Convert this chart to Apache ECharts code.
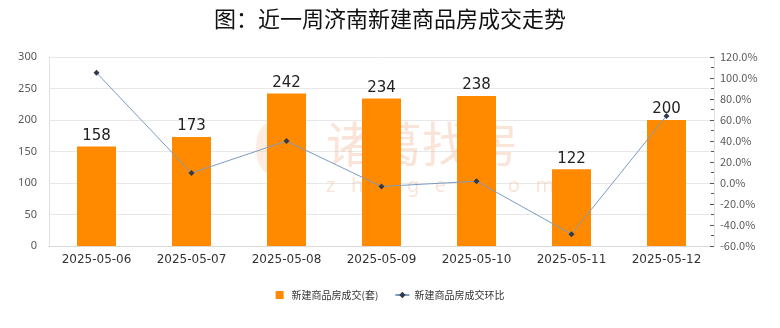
<!DOCTYPE html>
<html><head><meta charset="utf-8">
<script src="https://cdn.jsdelivr.net/npm/echarts@6/dist/echarts.min.js"></script>
<style>html,body{margin:0;padding:0;background:#fff}#c{width:780px;height:328px}</style>
</head><body><div id="c"></div>
<script>
const categories = ['2025-05-06','2025-05-07','2025-05-08','2025-05-09','2025-05-10','2025-05-11','2025-05-12'];
const deals = [158, 173, 242, 234, 238, 122, 200];
const ratio = [105.0, 9.5, 39.9, -3.3, 1.7, -48.7, 63.9];
const leftTicks = {min: 0, max: 300, interval: 50};
const rightTicks = {min: -60, max: 120, interval: 20};
const seriesNames = ['新建商品房成交(套)', '新建商品房成交环比'];
const titleText = '图：近一周济南新建商品房成交走势';

const chart = echarts.init(document.getElementById('c'));
chart.setOption({
  backgroundColor: '#fff',
  animation: false,
  title: {text: titleText, left: 'center', top: 3,
    textStyle: {fontFamily: 'Noto Sans CJK SC', fontSize: 22, fontWeight: 'normal', color: '#111'}},
  graphic: [
    {type: 'ellipse', left: 256, top: 122, z: 1, silent: true,
      shape: {cx: 0, cy: 0, rx: 15, ry: 26},
      style: {fill: 'rgba(245,200,170,0.35)'}},
    {type: 'text', left: 326, top: 120, z: 1, silent: true,
      style: {text: '诸葛找房', fontSize: 48, fontFamily: 'Noto Sans CJK SC', fill: 'rgba(240,190,160,0.42)', letterSpacing: 4}},
    {type: 'text', left: 326, top: 176, z: 1, silent: true,
      style: {text: 'z   h   u   g   e   .   c   o   m', fontSize: 20, fontFamily: 'Noto Sans', fill: 'rgba(240,190,160,0.42)'}}
  ],
  legend: {bottom: 23, left: 'center', itemGap: 16, itemWidth: 14, itemHeight: 8,
    textStyle: {fontFamily: 'Noto Sans CJK SC', fontSize: 10, color: '#333'},
    data: [{name: seriesNames[0], icon: 'path://M0,0h8v8h-8z'}, {name: seriesNames[1]}]},
  grid: {left: 49, right: 66, top: 57, bottom: 82},
  xAxis: {type: 'category', data: categories,
    axisLine: {lineStyle: {color: '#d9d9d9'}}, axisTick: {show: false},
    axisLabel: {color: '#333', fontSize: 12, fontFamily: 'DejaVu Sans', margin: 8}},
  yAxis: [
    {type: 'value', min: leftTicks.min, max: leftTicks.max, interval: leftTicks.interval,
      axisLine: {show: true, lineStyle: {color: '#e0e0e0'}}, axisTick: {show: false},
      axisLabel: {color: '#595959', fontSize: 11, fontFamily: 'Noto Sans', margin: 12},
      splitLine: {lineStyle: {color: '#e8e8e8'}}},
    {type: 'value', min: rightTicks.min, max: rightTicks.max, interval: rightTicks.interval,
      axisLine: {show: true, lineStyle: {color: '#e0e0e0'}},
      axisTick: {show: true, inside: true, length: 4, lineStyle: {color: '#595959'}},
      minorTick: {show: true, splitNumber: 2, length: 3, lineStyle: {color: '#595959'}},
      axisLabel: {color: '#595959', fontSize: 11, fontFamily: 'Noto Sans CJK SC', margin: 6,
        formatter: v => v.toFixed(1) + '%'},
      splitLine: {show: false}}
  ],
  series: [
    {name: seriesNames[0], type: 'bar', data: deals, barWidth: 39, z: 2,
      itemStyle: {color: '#FF8A00'},
      label: {show: true, position: 'top', distance: 3, color: '#222', fontSize: 15, fontFamily: 'DejaVu Sans'}},
    {name: seriesNames[1], type: 'line', yAxisIndex: 1, data: ratio, z: 3,
      symbol: 'diamond', symbolSize: 6,
      lineStyle: {color: '#7B9CC4', width: 1},
      itemStyle: {color: '#2F3B4A'}}
  ]
});
</script></body></html>
